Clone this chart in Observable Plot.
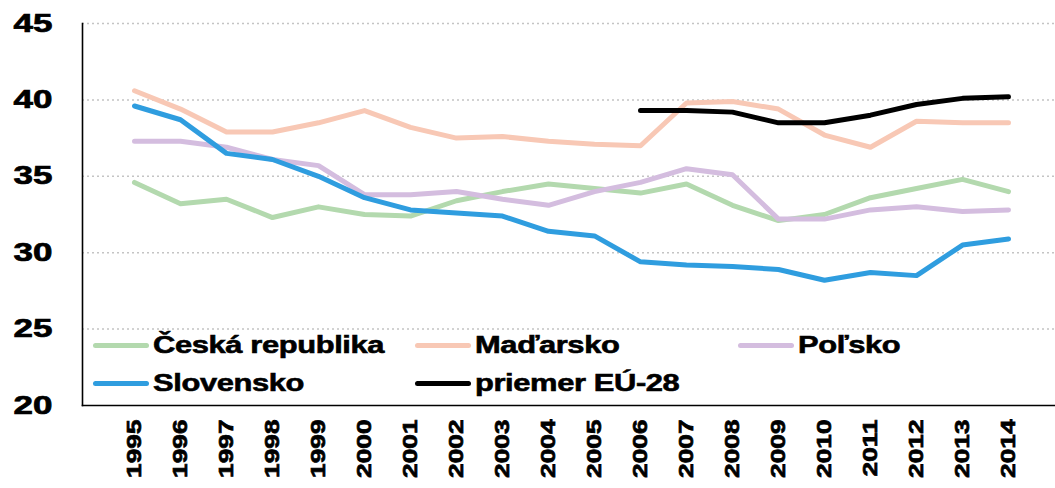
<!DOCTYPE html>
<html>
<head>
<meta charset="utf-8">
<script src="https://cdn.jsdelivr.net/npm/d3@7"></script>
<script src="https://cdn.jsdelivr.net/npm/@observablehq/plot@0.6"></script>
<style>
  html, body { margin: 0; padding: 0; background: #fff; }
  #wrap { position: relative; width: 1055px; height: 488px; overflow: hidden; }
  .leg { position: absolute; display: flex; align-items: center; font-family: "Liberation Sans", Arial, sans-serif; font-weight: bold; font-size: 24.5px; color: #000; white-space: nowrap; }
  .leg .sw { width: 56px; height: 5px; border-radius: 3px; margin-right: 4px; }
  .leg .tx { display: inline-block; transform: scaleX(1.26); transform-origin: left center; letter-spacing: -0.3px; -webkit-text-stroke: 0.6px #000; }
</style>
</head>
<body>
<div id="wrap"></div>
<script>
const years = [1995,1996,1997,1998,1999,2000,2001,2002,2003,2004,2005,2006,2007,2008,2009,2010,2011,2012,2013,2014];
const yTicks = [20,25,30,35,40,45];

const seriesNames = ["Česká republika","Maďarsko","Poľsko","Slovensko","priemer EÚ-28"];
const seriesColors = ["#b3d9ae","#f8c8b5","#d4bddf","#2f9ddf","#000000"];

const cesko     = [34.6,33.2,33.5,32.3,33.0,32.5,32.4,33.4,34.0,34.5,34.2,33.9,34.5,33.1,32.1,32.5,33.6,34.2,34.8,34.0];
const madarsko  = [40.6,39.4,37.9,37.9,38.5,39.3,38.2,37.5,37.6,37.3,37.1,37.0,39.8,39.9,39.4,37.7,36.9,38.6,38.5,38.5];
const polsko    = [37.3,37.3,36.9,36.1,35.7,33.8,33.8,34.0,33.5,33.1,34.0,34.6,35.5,35.1,32.2,32.2,32.8,33.0,32.7,32.8];
const slovensko = [39.6,38.7,36.5,36.1,35.0,33.6,32.8,32.6,32.4,31.4,31.1,29.4,29.2,29.1,28.9,28.2,28.7,28.5,30.5,30.9];
const eu28      = [null,null,null,null,null,null,null,null,null,null,null,39.3,39.3,39.2,38.5,38.5,39.0,39.7,40.1,40.2];

const seriesValues = [cesko, madarsko, polsko, slovensko, eu28];

const lineMarks = seriesNames.map((name, k) => {
  const rows = years.map((yr, i) => ({year: yr, value: seriesValues[k][i]}));
  return Plot.lineY(rows, {x: "year", y: "value", stroke: seriesColors[k], strokeWidth: 5, strokeLinejoin: "round", strokeLinecap: "round"});
});

const chart = Plot.plot({
  width: 1055,
  height: 488,
  marginLeft: 82,
  marginRight: 0,
  marginTop: 23,
  marginBottom: 83,
  style: {fontFamily: "'Liberation Sans', Arial, sans-serif", fontWeight: "bold", color: "#000", background: "#fff"},
  x: {type: "point", domain: years, range: [105, 1036]},
  y: {domain: [20, 45]},
  marks: [
    Plot.gridY(yTicks.filter(t => t > 20), {stroke: "#c4c4c4", strokeOpacity: 1, strokeWidth: 1.5, strokeDasharray: "2,3"}),
    Plot.axisY(yTicks, {tickSize: 0, tickPadding: 30, fontSize: 25, label: null}),
    Plot.axisX(years, {tickSize: 0, tickPadding: 14, tickRotate: -90, fontSize: 21, label: null, tickFormat: d => String(d)}),
    Plot.frame({anchor: "left", stroke: "#000", strokeWidth: 1.6}),
    Plot.frame({anchor: "bottom", stroke: "#000", strokeWidth: 1.6}),
    ...lineMarks
  ]
});

// widen and thicken the tick labels like the reference's heavy face
chart.querySelectorAll('[aria-label="y-axis tick label"] text').forEach(t => {
  const tr = t.getAttribute("transform") || "";
  t.setAttribute("transform", tr + " scale(1.4,1)");
  t.setAttribute("stroke", "#000");
  t.setAttribute("stroke-width", "0.7");
});
chart.querySelectorAll('[aria-label="x-axis tick label"] text').forEach(t => {
  const tr = t.getAttribute("transform") || "";
  t.setAttribute("transform", tr + " scale(1.25,1)");
  t.setAttribute("stroke", "#000");
  t.setAttribute("stroke-width", "0.7");
});

const wrap = document.getElementById("wrap");
wrap.appendChild(chart);

// legend (two rows inside the plot area)
const legendPos = [
  {left: 93,  top: 345},
  {left: 415, top: 345},
  {left: 738, top: 345},
  {left: 93,  top: 383},
  {left: 415, top: 383}
];
seriesNames.forEach((name, k) => {
  const d = document.createElement("div");
  d.className = "leg";
  d.style.left = legendPos[k].left + "px";
  d.style.top = (legendPos[k].top - 16) + "px";
  d.style.height = "32px";
  const sw = document.createElement("span");
  sw.className = "sw";
  sw.style.background = seriesColors[k];
  const tx = document.createElement("span");
  tx.className = "tx";
  tx.textContent = name;
  d.appendChild(sw);
  d.appendChild(tx);
  wrap.appendChild(d);
});
</script>
</body>
</html>
